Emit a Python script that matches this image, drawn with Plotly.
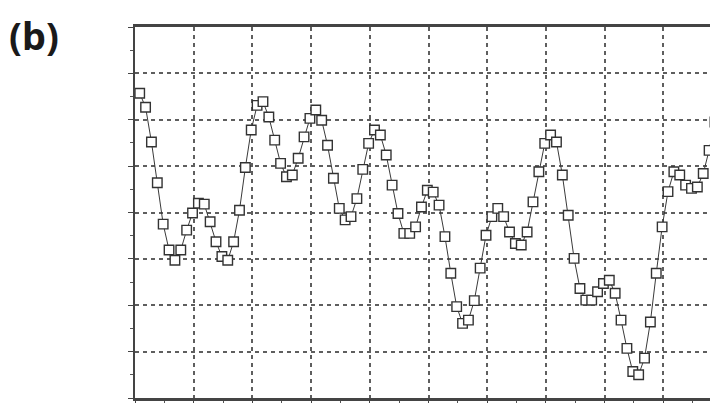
import plotly.graph_objects as go

# sample index positions (x in grid units, step 0.1)
n_points = 99
x_start = 0.08
x_step = 0.1
x_vals = [round(x_start + x_step * i, 3) for i in range(n_points)]

# series values (y in grid units, 0..8)
y_vals = [
    6.57, 6.27, 5.52, 4.64, 3.75, 3.19, 2.97, 3.19, 3.62, 3.99,
    4.20, 4.18, 3.80, 3.37, 3.05, 2.97, 3.37, 4.05, 4.97, 5.78,
    6.31, 6.39, 6.06, 5.56, 5.06, 4.77, 4.81, 5.17, 5.63, 6.03,
    6.21, 5.99, 5.45, 4.74, 4.09, 3.84, 3.91, 4.30, 4.93, 5.49,
    5.78, 5.67, 5.24, 4.59, 3.98, 3.55, 3.55, 3.69, 4.12, 4.48,
    4.44, 4.16, 3.48, 2.69, 1.97, 1.61, 1.68, 2.10, 2.80, 3.51,
    3.91, 4.09, 3.91, 3.58, 3.33, 3.30, 3.58, 4.23, 4.88, 5.49,
    5.67, 5.52, 4.81, 3.94, 3.01, 2.36, 2.11, 2.11, 2.29, 2.47,
    2.54, 2.26, 1.68, 1.07, 0.57, 0.50, 0.86, 1.64, 2.69, 3.69,
    4.45, 4.88, 4.81, 4.59, 4.52, 4.55, 4.84, 5.34, 5.95,
]

panel_label = "(b)"

# page body has an 8px default margin; the figure is sized to compensate
ML, MT, MB = 127, 19, 5
W, H = 710, 395
PW, PH = W - ML, H - MT - MB

fig = go.Figure()
fig.add_trace(go.Scatter(
    x=x_vals, y=y_vals, mode="lines+markers",
    line=dict(color="#3a3a3a", width=1),
    marker=dict(symbol="square", size=9.5, color="white",
                line=dict(color="#333333", width=1.4)),
    showlegend=False, cliponaxis=False,
))

axis_common = dict(
    showgrid=True, gridcolor="#5e5e5e", gridwidth=1.6, griddash="4px,4px",
    zeroline=False, showticklabels=False,
    ticks="outside", ticklen=5, tickwidth=1.2, tickcolor="#444",
    minor=dict(ticks="outside", ticklen=3, tickcolor="#555", dtick=0.5, showgrid=False),
    dtick=1, tick0=0, automargin=False,
)

fig.update_xaxes(range=[0, PW / 58.7], showline=True, linecolor="#444",
                 linewidth=2.5, mirror=True, **axis_common)
fig.update_yaxes(range=[0, 8], showline=True, linecolor="#444",
                 linewidth=2, mirror=False, **axis_common)

fig.add_annotation(
    text=panel_label, xref="paper", yref="paper",
    x=(0 - ML) / PW, y=(H - MB - 0) / PH, xanchor="left", yanchor="top",
    showarrow=False, borderpad=0,
    font=dict(family="Noto Sans", size=38, color="#1a1a1a", weight="bold"),
)

fig.update_layout(
    width=W, height=H,
    margin=dict(l=ML, r=0, t=MT, b=MB),
    paper_bgcolor="white", plot_bgcolor="white",
)

fig.write_html("out.html")
